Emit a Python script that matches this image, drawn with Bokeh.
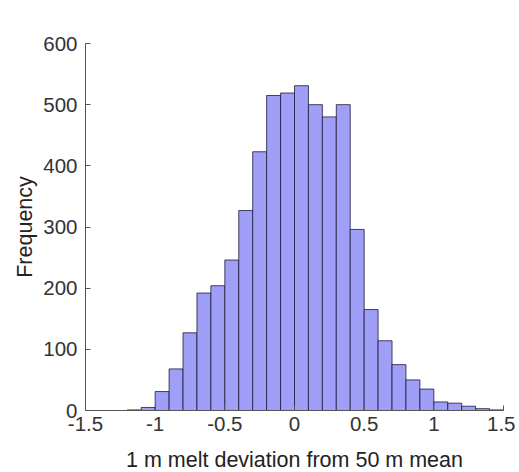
from bokeh.plotting import figure
from bokeh.models import FixedTicker, ColumnDataSource
from bokeh.embed import file_html
from bokeh.resources import INLINE

bin_left = [-1.5, -1.4, -1.3, -1.2, -1.1, -1.0, -0.9, -0.8, -0.7, -0.6,
            -0.5, -0.4, -0.3, -0.2, -0.1, 0.0, 0.1, 0.2, 0.3, 0.4,
            0.5, 0.6, 0.7, 0.8, 0.9, 1.0, 1.1, 1.2, 1.3, 1.4]
bin_right = [-1.4, -1.3, -1.2, -1.1, -1.0, -0.9, -0.8, -0.7, -0.6, -0.5,
             -0.4, -0.3, -0.2, -0.1, 0.0, 0.1, 0.2, 0.3, 0.4, 0.5,
             0.6, 0.7, 0.8, 0.9, 1.0, 1.1, 1.2, 1.3, 1.4, 1.5]
counts = [0, 0, 0, 1, 5, 31, 68, 127, 192, 204,
          246, 327, 423, 515, 519, 531, 500, 480, 500, 296,
          165, 114, 75, 50, 35, 14, 12, 7, 3, 1]
x_ticks = [-1.5, -1, -0.5, 0, 0.5, 1, 1.5]
x_tick_labels = ["-1.5", "-1", "-0.5", "0", "0.5", "1", "1.5"]
y_ticks = [0, 100, 200, 300, 400, 500, 600]

src = ColumnDataSource(dict(left=bin_left, right=bin_right, top=counts,
                            bottom=[0] * len(counts)))

p = figure(output_backend="svg", toolbar_location=None,
           x_range=(-1.5, 1.5), y_range=(0, 600),
           frame_width=418, frame_height=367,
           min_border_left=85, min_border_top=43, min_border_right=12, min_border_bottom=62)
p.outline_line_color = None
p.grid.visible = False
p.background_fill_color = "white"

p.quad(left="left", right="right", top="top", bottom="bottom", source=src,
       fill_color="#9f9ff7", line_color="#1a1a3a", line_width=0.8)

font = "Liberation Sans"
for ax in (p.xaxis[0], p.yaxis[0]):
    ax.axis_line_color = "#555555"
    ax.major_tick_line_color = "#555555"
    ax.major_tick_in = 5
    ax.major_tick_out = 0
    ax.minor_tick_line_color = None
    ax.major_label_text_font = font
    ax.major_label_text_font_size = "20.5px"
    ax.major_label_text_color = "#333333"
    ax.axis_label_text_font = font
    ax.axis_label_text_font_size = "21.5px"
    ax.axis_label_text_font_style = "normal"
    ax.axis_label_text_color = "#222222"

p.xaxis[0].ticker = FixedTicker(ticks=x_ticks)
p.xaxis[0].major_label_overrides = dict(zip(x_ticks, x_tick_labels))
p.yaxis[0].ticker = FixedTicker(ticks=y_ticks)
p.xaxis[0].axis_label = "1 m melt deviation from 50 m mean"
p.yaxis[0].axis_label = "Frequency"
p.xaxis[0].major_label_standoff = 6
p.yaxis[0].major_label_standoff = 8
p.xaxis[0].axis_label_standoff = 14
p.yaxis[0].axis_label_standoff = 3

open("out.html", "w").write(file_html(p, INLINE))
